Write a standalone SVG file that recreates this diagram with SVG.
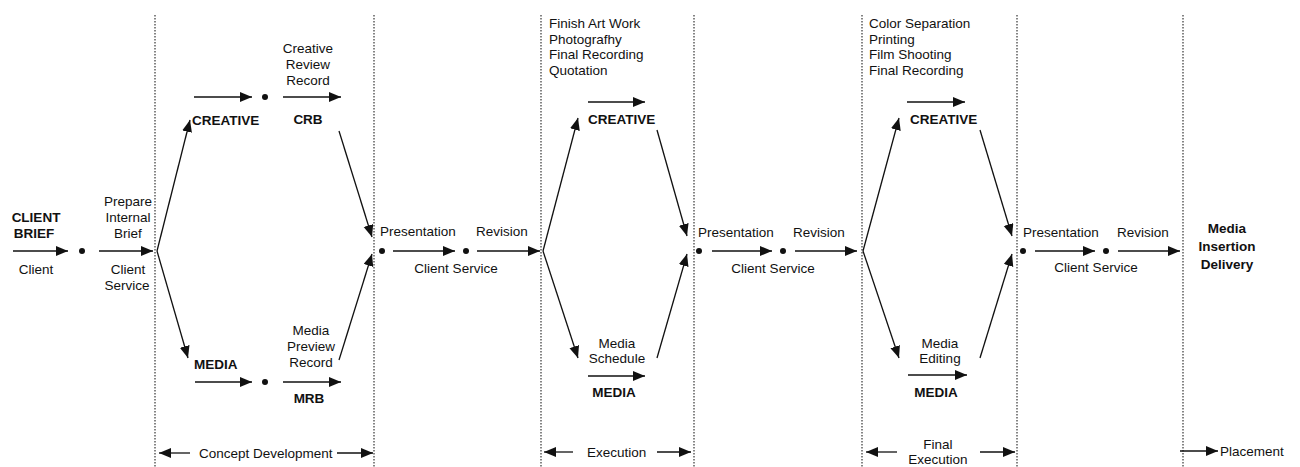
<svg xmlns="http://www.w3.org/2000/svg" width="1300" height="467" viewBox="0 0 1300 467">
  <style>
    text { font-family: "Liberation Sans", Arial, sans-serif; font-size: 13.5px; fill: #111; }
    .b { font-weight: bold; }
    .m { text-anchor: middle; }
    .ln { stroke: #111; stroke-width: 1.3; fill: none; }
    .arr { stroke: #111; stroke-width: 1.3; fill: none; marker-end: url(#ah); }
    .sep { stroke: #222; stroke-width: 1.1; stroke-dasharray: 1.4 1.6; }
    .dot { fill: #111; }
  </style>
  <defs>
    <marker id="ah" markerUnits="userSpaceOnUse" markerWidth="13" markerHeight="11" refX="12" refY="5" orient="auto">
      <path d="M0,0 L12,5 L0,10 z" fill="#111"/>
    </marker>
  </defs>
  <rect width="1300" height="467" fill="#fff"/>

  <!-- phase separators -->
  <g id="separators">
    <line class="sep" x1="155" y1="15" x2="155" y2="467"/>
    <line class="sep" x1="374" y1="15" x2="374" y2="467"/>
    <line class="sep" x1="541" y1="15" x2="541" y2="467"/>
    <line class="sep" x1="694" y1="15" x2="694" y2="467"/>
    <line class="sep" x1="862" y1="15" x2="862" y2="467"/>
    <line class="sep" x1="1017" y1="15" x2="1017" y2="467"/>
    <line class="sep" x1="1183" y1="15" x2="1183" y2="467"/>
  </g>

  <!-- connectors -->
  <g id="connectors">
    <!-- brief -->
    <line class="arr" x1="13" y1="251" x2="68" y2="251"/>
    <circle class="dot" cx="82" cy="251" r="3"/>
    <line class="arr" x1="99" y1="251" x2="153" y2="251"/>
    <!-- concept development split -->
    <line class="arr" x1="157" y1="251" x2="190" y2="120"/>
    <line class="arr" x1="157" y1="251" x2="188" y2="358"/>
    <line class="arr" x1="194" y1="97" x2="252" y2="97"/>
    <circle class="dot" cx="265" cy="97" r="3"/>
    <line class="arr" x1="283" y1="97" x2="341" y2="97"/>
    <line class="arr" x1="195" y1="382" x2="252" y2="382"/>
    <circle class="dot" cx="265" cy="382" r="3"/>
    <line class="arr" x1="283" y1="382" x2="341" y2="382"/>
    <line class="arr" x1="339" y1="131" x2="372" y2="237"/>
    <line class="arr" x1="339" y1="360" x2="372" y2="254"/>
    <!-- presentation 1 -->
    <circle class="dot" cx="382" cy="251" r="3"/>
    <line class="arr" x1="393" y1="251" x2="455" y2="251"/>
    <circle class="dot" cx="466" cy="251" r="3"/>
    <line class="arr" x1="477" y1="251" x2="540" y2="251"/>
    <!-- execution split -->
    <line class="arr" x1="543" y1="251" x2="578" y2="118"/>
    <line class="arr" x1="543" y1="251" x2="578" y2="358"/>
    <line class="arr" x1="588" y1="102" x2="645" y2="102"/>
    <line class="arr" x1="588" y1="376" x2="645" y2="376"/>
    <line class="arr" x1="657" y1="130" x2="687" y2="236"/>
    <line class="arr" x1="657" y1="358" x2="687" y2="254"/>
    <!-- presentation 2 -->
    <circle class="dot" cx="699" cy="251" r="3"/>
    <line class="arr" x1="712" y1="251" x2="772" y2="251"/>
    <circle class="dot" cx="783" cy="251" r="3"/>
    <line class="arr" x1="795" y1="251" x2="857" y2="251"/>
    <!-- final execution split -->
    <line class="arr" x1="863" y1="251" x2="899" y2="118"/>
    <line class="arr" x1="863" y1="251" x2="899" y2="358"/>
    <line class="arr" x1="907" y1="102" x2="965" y2="102"/>
    <line class="arr" x1="908" y1="375" x2="967" y2="375"/>
    <line class="arr" x1="980" y1="130" x2="1012" y2="236"/>
    <line class="arr" x1="980" y1="358" x2="1012" y2="254"/>
    <!-- presentation 3 -->
    <circle class="dot" cx="1023" cy="251" r="3"/>
    <line class="arr" x1="1035" y1="251" x2="1095" y2="251"/>
    <circle class="dot" cx="1106" cy="251" r="3"/>
    <line class="arr" x1="1118" y1="251" x2="1180" y2="251"/>
    <!-- phase spans -->
    <line class="arr" x1="190" y1="453" x2="159" y2="453"/>
    <line class="arr" x1="337" y1="453" x2="373" y2="453"/>
    <line class="arr" x1="573" y1="452" x2="544" y2="452"/>
    <line class="arr" x1="657" y1="452" x2="691" y2="452"/>
    <line class="arr" x1="897" y1="452" x2="866" y2="452"/>
    <line class="arr" x1="980" y1="452" x2="1015" y2="452"/>
    <line class="arr" x1="1180" y1="451" x2="1218" y2="451"/>
  </g>

  <g id="client-brief">
    <text class="b m" x="36" y="222">CLIENT</text>
    <text class="b m" x="34" y="238">BRIEF</text>
    <text class="m" x="36" y="274">Client</text>
  </g>
  <g id="internal-brief">
    <text class="m" x="128" y="206">Prepare</text>
    <text class="m" x="128" y="222">Internal</text>
    <text class="m" x="128" y="238">Brief</text>
    <text class="m" x="128" y="274">Client</text>
    <text class="m" x="127" y="290">Service</text>
  </g>
  <g id="creative-1">
    <text class="b" x="192" y="125">CREATIVE</text>
  </g>
  <g id="crb">
    <text class="m" x="308" y="53">Creative</text>
    <text class="m" x="308" y="69">Review</text>
    <text class="m" x="308" y="85">Record</text>
    <text class="b m" x="308" y="124">CRB</text>
  </g>
  <g id="media-1">
    <text class="b" x="194" y="369">MEDIA</text>
  </g>
  <g id="mrb">
    <text class="m" x="311" y="335">Media</text>
    <text class="m" x="311" y="351">Preview</text>
    <text class="m" x="311" y="367">Record</text>
    <text class="b m" x="309" y="403">MRB</text>
  </g>
  <g id="presentation-1">
    <text x="380" y="236">Presentation</text>
    <text x="476" y="236">Revision</text>
    <text class="m" x="456" y="273">Client Service</text>
  </g>
  <g id="creative-2">
    <text x="549" y="28">Finish Art Work</text>
    <text x="549" y="43.5">Photografhy</text>
    <text x="549" y="59">Final Recording</text>
    <text x="549" y="74.5">Quotation</text>
    <text class="b" x="588" y="124">CREATIVE</text>
  </g>
  <g id="media-2">
    <text class="m" x="617" y="348">Media</text>
    <text class="m" x="617" y="363">Schedule</text>
    <text class="b m" x="614" y="397">MEDIA</text>
  </g>
  <g id="presentation-2">
    <text x="698" y="237">Presentation</text>
    <text x="793" y="237">Revision</text>
    <text class="m" x="773" y="273">Client Service</text>
  </g>
  <g id="creative-3">
    <text x="869" y="28">Color Separation</text>
    <text x="869" y="43.5">Printing</text>
    <text x="869" y="59">Film Shooting</text>
    <text x="869" y="74.5">Final Recording</text>
    <text class="b" x="910" y="124">CREATIVE</text>
  </g>
  <g id="media-3">
    <text class="m" x="940" y="348">Media</text>
    <text class="m" x="940" y="363">Editing</text>
    <text class="b m" x="936" y="397">MEDIA</text>
  </g>
  <g id="presentation-3">
    <text x="1023" y="237">Presentation</text>
    <text x="1117" y="237">Revision</text>
    <text class="m" x="1096" y="272">Client Service</text>
  </g>
  <g id="delivery">
    <text class="b m" x="1227" y="233">Media</text>
    <text class="b m" x="1227" y="251">Insertion</text>
    <text class="b m" x="1227" y="269">Delivery</text>
  </g>

  <g id="phase-labels">
    <text x="199" y="458">Concept Development</text>
    <text x="587" y="457">Execution</text>
    <text class="m" x="938" y="449">Final</text>
    <text class="m" x="938" y="464">Execution</text>
    <text x="1220" y="456">Placement</text>
  </g>
</svg>
